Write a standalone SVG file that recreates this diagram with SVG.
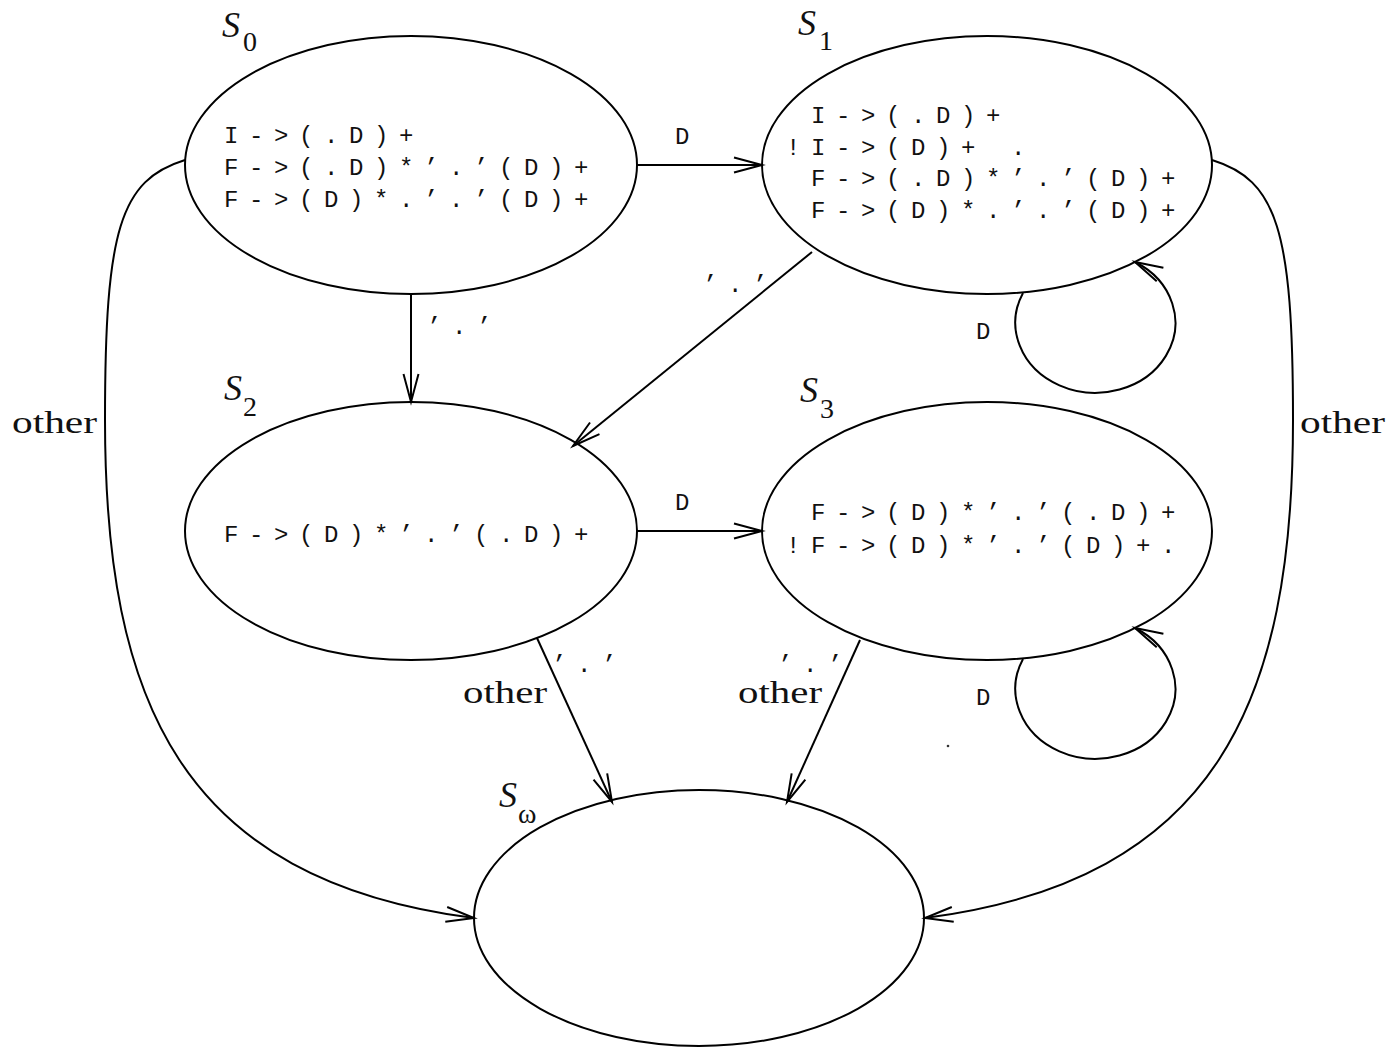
<svg xmlns="http://www.w3.org/2000/svg" width="1390" height="1048" viewBox="0 0 1390 1048">
<style>
.node{fill:none;stroke:#000;stroke-width:2}
.edge{fill:none;stroke:#000;stroke-width:2}
.mono{font-family:"Liberation Mono",monospace;font-size:24px;letter-spacing:10.6px;fill:#111}
.lbl{font-family:"Liberation Serif",serif;font-size:32px;fill:#111}
.S{font-family:"Liberation Serif",serif;font-style:italic;font-size:36px;fill:#111}
.sub{font-family:"Liberation Serif",serif;font-size:28px;fill:#111}
</style>
<defs>
<marker id="arr" markerUnits="userSpaceOnUse" markerWidth="32" markerHeight="20" viewBox="-2 -10 32 20" refX="28" refY="0" orient="auto" overflow="visible">
<path d="M0,-7.5 L28,0 L0,7.5" fill="none" stroke="#000" stroke-width="2"/>
</marker>
</defs>
<rect width="1390" height="1048" fill="#fff"/>
<g id="S0">
<ellipse class="node" cx="411" cy="165" rx="226" ry="129"/>
<text class="S" x="222" y="37">S</text><text class="sub" x="243" y="51">0</text>
<text class="mono" x="224" y="143">I-&gt;(.D)+</text>
<text class="mono" x="224" y="175">F-&gt;(.D)*’.’(D)+</text>
<text class="mono" x="224" y="207">F-&gt;(D)*.’.’(D)+</text>
</g>
<g id="S1">
<ellipse class="node" cx="987" cy="165" rx="225" ry="129"/>
<text class="S" x="798" y="35">S</text><text class="sub" x="819" y="50">1</text>
<text class="mono" x="811" y="123">I-&gt;(.D)+</text>
<text class="mono" x="786" y="155">!I-&gt;(D)+ .</text>
<text class="mono" x="811" y="186">F-&gt;(.D)*’.’(D)+</text>
<text class="mono" x="811" y="218">F-&gt;(D)*.’.’(D)+</text>
</g>
<g id="S2">
<ellipse class="node" cx="411" cy="531" rx="226" ry="129"/>
<text class="S" x="224" y="400">S</text><text class="sub" x="243" y="416">2</text>
<text class="mono" x="224" y="542">F-&gt;(D)*’.’(.D)+</text>
</g>
<g id="S3">
<ellipse class="node" cx="987" cy="531" rx="225" ry="129"/>
<text class="S" x="800" y="402">S</text><text class="sub" x="820" y="418">3</text>
<text class="mono" x="811" y="520">F-&gt;(D)*’.’(.D)+</text>
<text class="mono" x="786" y="553">!F-&gt;(D)*’.’(D)+.</text>
</g>
<g id="Sw">
<ellipse class="node" cx="699" cy="918" rx="225" ry="128"/>
<text class="S" x="499" y="807">S</text><text class="sub" x="518" y="823">ω</text>
</g>
<g id="connectors">
<line class="edge" x1="637" y1="165" x2="762" y2="165" marker-end="url(#arr)"/>
<text class="mono" x="675" y="144">D</text>
<line class="edge" x1="411" y1="295" x2="411" y2="402" marker-end="url(#arr)"/>
<text class="mono" x="427" y="334">’.’</text>
<line class="edge" x1="812" y1="252" x2="573" y2="446" marker-end="url(#arr)"/>
<text class="mono" x="703" y="292">’.’</text>
<path class="edge" d="M1023,293 A80,70 0 1,0 1135,262" marker-end="url(#arr)"/>
<text class="mono" x="976" y="339">D</text>
<line class="edge" x1="637" y1="531" x2="762" y2="531" marker-end="url(#arr)"/>
<text class="mono" x="675" y="510">D</text>
<path class="edge" d="M1023,659 A80,70 0 1,0 1135,628" marker-end="url(#arr)"/>
<text class="mono" x="976" y="705">D</text>
<line class="edge" x1="537" y1="638" x2="612" y2="802" marker-end="url(#arr)"/>
<text class="mono" x="552" y="672">’.’</text>
<text class="lbl" x="463" y="703" textLength="84" lengthAdjust="spacingAndGlyphs">other</text>
<line class="edge" x1="860" y1="640" x2="787" y2="802" marker-end="url(#arr)"/>
<text class="mono" x="778" y="672">’.’</text>
<text class="lbl" x="738" y="703" textLength="84" lengthAdjust="spacingAndGlyphs">other</text>
<path class="edge" d="M185,160 C120,180 105,230 105,420 C105,700 180,880 474,918" marker-end="url(#arr)"/>
<text class="lbl" x="12" y="433" textLength="85" lengthAdjust="spacingAndGlyphs">other</text>
<path class="edge" d="M1212,160 C1277,180 1293,230 1293,420 C1293,700 1218,880 925,918" marker-end="url(#arr)"/>
<text class="lbl" x="1300" y="433" textLength="85" lengthAdjust="spacingAndGlyphs">other</text>
</g>
<circle cx="948" cy="746" r="1.3" fill="#333"/>
</svg>
